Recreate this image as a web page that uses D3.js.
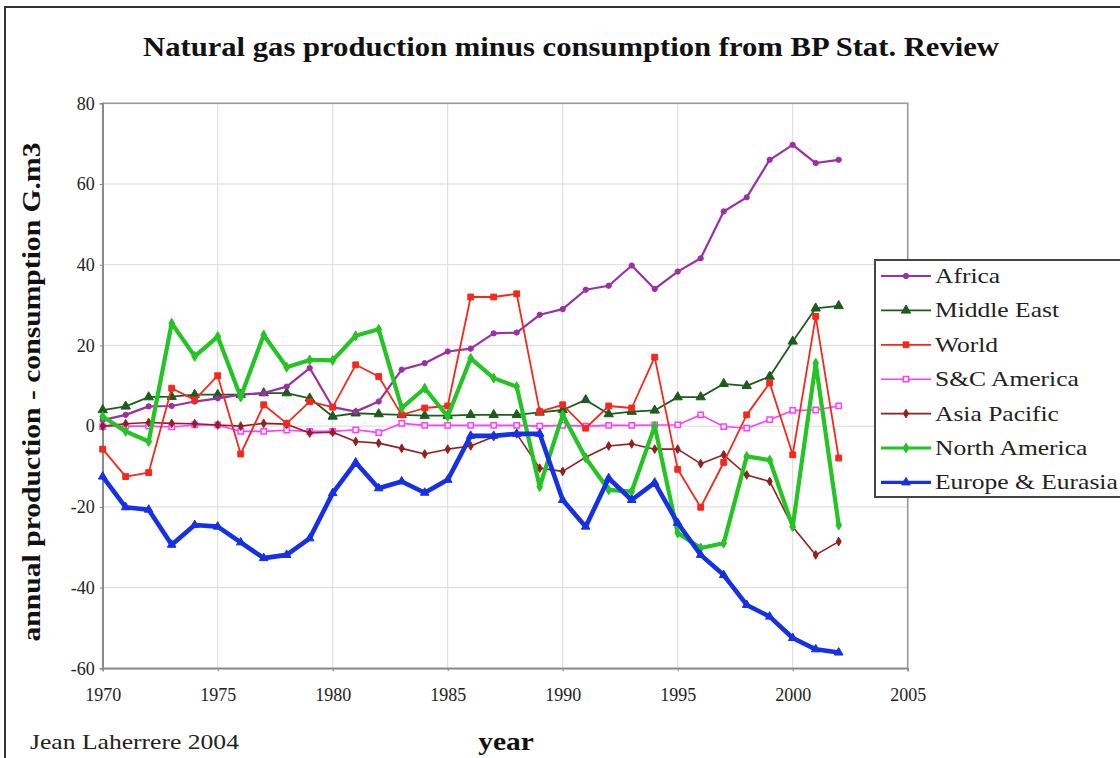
<!DOCTYPE html>
<html><head><meta charset="utf-8">
<script src="https://cdn.jsdelivr.net/npm/d3@7"></script>
<style>
html,body{margin:0;padding:0;background:#fff;}
svg{display:block;font-family:"Liberation Serif","Times New Roman",serif;}
</style></head>
<body>
<svg id="chart" width="1120" height="758"></svg>
<script>
const years = [1970,1971,1972,1973,1974,1975,1976,1977,1978,1979,1980,1981,1982,1983,1984,1985,1986,1987,1988,1989,1990,1991,1992,1993,1994,1995,1996,1997,1998,1999,2000,2001,2002];
const africa = [1.5,2.8,4.9,5.0,6.1,6.9,7.8,8.2,9.8,14.4,4.7,3.6,6.1,14.0,15.6,18.5,19.2,23.0,23.2,27.6,29.0,33.8,34.8,39.8,34.0,38.3,41.6,53.2,56.7,66.0,69.7,65.2,66.0];
const middleEast = [4.0,4.9,7.2,7.3,7.8,7.8,7.8,8.2,8.2,6.9,2.4,3.2,3.0,2.8,2.6,2.6,2.8,2.8,2.8,3.4,4.0,6.5,3.0,3.6,3.9,7.2,7.2,10.5,10.0,12.3,21.0,29.2,29.8];
const world = [-5.7,-12.5,-11.5,9.4,6.5,12.5,-6.9,5.3,0.7,6.1,4.7,15.2,12.3,2.8,4.5,5.0,32.0,32.0,32.8,3.6,5.3,-0.5,5.0,4.5,17.1,-10.7,-20.1,-9.0,2.8,10.7,-7.1,27.2,-7.9];
const scAmerica = [-0.1,0.0,0.0,-0.2,0.3,0.3,-1.3,-1.3,-1.0,-1.3,-1.3,-0.9,-1.6,0.7,0.2,0.2,0.2,0.2,0.2,0.0,0.2,0.0,0.2,0.2,0.3,0.3,2.8,-0.1,-0.5,1.6,3.9,4.0,5.0];
const asiaPacific = [0.0,0.6,0.9,0.7,0.6,0.3,0.0,0.7,0.5,-1.7,-1.5,-3.8,-4.2,-5.5,-6.9,-5.7,-4.9,-2.6,-1.9,-10.4,-11.2,-7.7,-4.9,-4.4,-5.7,-5.7,-9.3,-7.1,-12.1,-13.7,-24.9,-31.9,-28.6];
const northAmerica = [2.4,-1.3,-3.8,25.5,17.3,22.2,7.2,22.6,14.6,16.4,16.3,22.4,24.0,4.5,9.4,2.4,16.8,11.9,9.8,-15.0,2.8,-7.9,-15.8,-16.2,0.0,-26.5,-30.2,-29.0,-7.5,-8.4,-24.9,15.6,-24.5];
const europeEurasia = [-12.5,-20.1,-20.7,-29.4,-24.5,-24.9,-28.8,-32.7,-31.9,-27.8,-16.6,-9.0,-15.4,-13.7,-16.5,-13.3,-2.4,-2.4,-1.9,-1.9,-18.3,-24.9,-12.9,-18.3,-14.0,-24.0,-31.9,-36.9,-44.3,-47.2,-52.5,-55.3,-56.1];
const seriesNames = ["Africa","Middle East","World","S&C America","Asia Pacific","North America","Europe & Eurasia"];
const yTicks = [-60,-40,-20,0,20,40,60,80];
const xTicks = [1970,1975,1980,1985,1990,1995,2000,2005];
const titleText = "Natural gas production minus consumption from BP Stat. Review";
const yLabel = "annual production - consumption G.m3";
const xLabel = "year";
const credit = "Jean Laherrere 2004";

const seriesData = [africa, middleEast, world, scAmerica, asiaPacific, northAmerica, europeEurasia];
const styles = [
  {color:"#9b2fa6", width:2.2, symbol:d3.symbolCircle, size:22, fill:true},
  {color:"#1d5c1d", width:1.8, symbol:d3.symbolTriangle, size:38, fill:true},
  {color:"#f5281c", width:1.8, symbol:d3.symbolSquare, size:34, fill:true},
  {color:"#ff3cff", width:1.6, symbol:d3.symbolSquare, size:28, fill:false},
  {color:"#931f1f", width:1.6, symbol:d3.symbolDiamond, size:22, fill:true},
  {color:"#24c424", width:4.2, symbol:d3.symbolDiamond, size:28, fill:true},
  {color:"#1530e6", width:4.6, symbol:d3.symbolTriangle, size:32, fill:true}
];

const svg = d3.select("#chart");
const x = d3.scaleLinear().domain([1970,2005]).range([102.7,907.7]);
const y = d3.scaleLinear().domain([-60,80]).range([668.3,103.3]);

// outer frame
svg.append("rect").attr("x",5).attr("y",7).attr("width",1140).attr("height",780)
  .attr("fill","none").attr("stroke","#333").attr("stroke-width",2);

// title
svg.append("text").attr("transform","translate(571,56) scale(1.135,1)")
  .attr("text-anchor","middle").attr("font-size",27).attr("font-weight","bold").attr("fill","#111")
  .text(titleText);

// gridlines
const g = svg.append("g");
g.selectAll(".hg").data(yTicks).enter().append("line")
  .attr("x1",x(1970)).attr("x2",x(2005)).attr("y1",d=>y(d)).attr("y2",d=>y(d))
  .attr("stroke","#d9d9df").attr("stroke-width",1);
g.selectAll(".vg").data(xTicks).enter().append("line")
  .attr("y1",y(-60)).attr("y2",y(80)).attr("x1",d=>x(d)).attr("x2",d=>x(d))
  .attr("stroke","#d9d9df").attr("stroke-width",1);

// plot border
svg.append("rect").attr("x",x(1970)).attr("y",y(80)).attr("width",x(2005)-x(1970)).attr("height",y(-60)-y(80))
  .attr("fill","none").attr("stroke","#9a9a9a").attr("stroke-width",1.6);

// axes
const yAxis = d3.axisLeft(y).tickValues(yTicks).tickSize(3).tickPadding(5).tickFormat(d=>String(d));
const ya = svg.append("g").attr("transform",`translate(${x(1970)},0)`).call(yAxis);
ya.select(".domain").attr("stroke","#888").attr("stroke-width",1.6);
ya.selectAll(".tick line").attr("stroke","#888");
ya.selectAll("text").attr("font-size",18).attr("font-family","Liberation Serif").attr("fill","#222");

const xAxis = d3.axisBottom(x).tickValues(xTicks).tickSize(3).tickPadding(17).tickFormat(d=>String(d));
const xa = svg.append("g").attr("transform",`translate(0,${y(-60)})`).call(xAxis);
xa.select(".domain").attr("stroke","#888").attr("stroke-width",1.6);
xa.selectAll(".tick line").attr("stroke","#888");
xa.selectAll("text").attr("font-size",18).attr("font-family","Liberation Serif").attr("fill","#222");

// axis labels
svg.append("text").attr("transform","translate(40,392) rotate(-90) scale(1.14,1)")
  .attr("text-anchor","middle").attr("font-size",26).attr("font-weight","bold").attr("fill","#111")
  .text(yLabel);
svg.append("text").attr("transform","translate(506,750) scale(1.18,1)")
  .attr("text-anchor","middle").attr("font-size",25).attr("font-weight","bold").attr("fill","#111")
  .text(xLabel);
svg.append("text").attr("transform","translate(30,749) scale(1.22,1)")
  .attr("font-size",21).attr("fill","#222").text(credit);

// series
const line = d3.line().x((d,i)=>x(years[i])).y(d=>y(d));
const order = [3,4,1,0,2,5,6];
order.forEach(si=>{
  const st = styles[si];
  const grp = svg.append("g");
  grp.append("path").datum(seriesData[si]).attr("d",line)
    .attr("fill","none").attr("stroke",st.color).attr("stroke-width",st.width).attr("stroke-linejoin","round");
  grp.selectAll("path.m").data(seriesData[si]).enter().append("path").attr("class","m")
    .attr("transform",(d,i)=>`translate(${x(years[i])},${y(d)})`)
    .attr("d",d3.symbol().type(st.symbol).size(st.size))
    .attr("fill",st.fill?st.color:"#fff").attr("stroke",st.color).attr("stroke-width",st.fill?1:1.5);
});

// legend
const lg = svg.append("g");
lg.append("rect").attr("x",875).attr("y",260).attr("width",260).attr("height",237)
  .attr("fill","#fff").attr("stroke","#444").attr("stroke-width",2);
seriesNames.forEach((name,i)=>{
  const st = styles[i];
  const ly = 276 + i*34.4;
  lg.append("line").attr("x1",881).attr("x2",931).attr("y1",ly).attr("y2",ly)
    .attr("stroke",st.color).attr("stroke-width",Math.min(st.width,3.2));
  lg.append("path").attr("transform",`translate(906,${ly})`)
    .attr("d",d3.symbol().type(st.symbol).size(st.size))
    .attr("fill",st.fill?st.color:"#fff").attr("stroke",st.color).attr("stroke-width",st.fill?1:1.5);
  lg.append("text").attr("transform",`translate(935,${ly+7}) scale(1.16,1)`)
    .attr("font-size",22).attr("fill","#222").text(name);
});
</script>
</body></html>
